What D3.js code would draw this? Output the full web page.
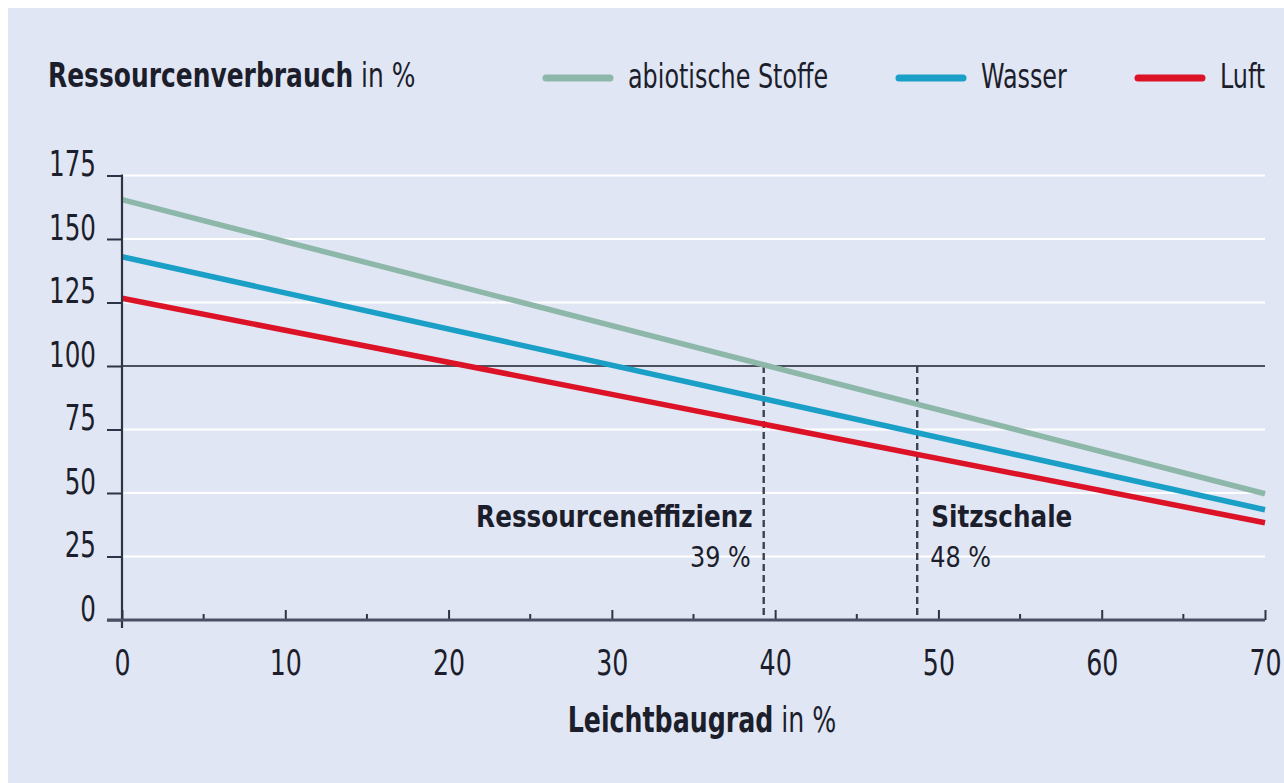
<!DOCTYPE html>
<html>
<head>
<meta charset="utf-8">
<script src="https://cdnjs.cloudflare.com/ajax/libs/d3/7.8.5/d3.min.js"></script>
<style>
  html, body { margin: 0; padding: 0; background: #ffffff; }
  svg { display: block; }
  text { font-family: "DejaVu Sans Condensed", "DejaVu Sans", sans-serif; fill: #1c1e2b; }
  .bold { font-weight: bold; }
</style>
</head>
<body>
<svg id="chart" width="1284" height="783"></svg>
<script>
// values
var leichtbaugrad = [0, 70];
var abiotischeStoffe = [165.5, 49.7];
var wasser = [143, 43.4];
var luft = [126.7, 38.3];

var yTicks = [0, 25, 50, 75, 100, 125, 150, 175];
var xTicks = [0, 10, 20, 30, 40, 50, 60, 70];
var xMinorTicks = [5, 15, 25, 35, 45, 55, 65];

var seriesNames = ["abiotische Stoffe", "Wasser", "Luft"];
var seriesColors = ["#8db8a9", "#1a9fc6", "#dc1226"];

var markerPos = [39.3, 48.7];
var markerTitles = ["Ressourceneffizienz", "Sitzschale"];
var markerLabels = ["39 %", "48 %"];

// the reference font is a condensed one, so squeeze the text horizontally
function squeeze(sel, sx) {
	sel.each(function() {
		var t = d3.select(this);
		var tx = +t.attr("x") || 0, ty = +t.attr("y") || 0;
		t.attr("x", 0).attr("y", 0)
			.attr("transform", "translate(" + tx + "," + ty + ") scale(" + sx + ",1)");
	});
}

function lineChart() {

	var svg = d3.select("#chart");

	// light panel, leaving a thin white strip on top and left
	svg.append("rect")
		.attr("x", 8).attr("y", 8)
		.attr("width", 1284).attr("height", 783)
		.attr("fill", "#e1e6f4");

	var x = d3.scaleLinear().domain([0, 70]).range([122, 1265]),
		y = d3.scaleLinear().domain([0, 175]).range([620, 175.5]);

	// white grid lines, the 100 line is black
	svg.append("g").selectAll("line")
		.data(yTicks.filter(function(d) { return d > 0; }))
		.enter().append("line")
		.attr("x1", x(0)).attr("x2", x(70))
		.attr("y1", function(d) { return y(d); })
		.attr("y2", function(d) { return y(d); })
		.attr("stroke", function(d) { return d === 100 ? "#1c1e2b" : "#ffffff"; })
		.attr("stroke-width", function(d) { return d === 100 ? 1.6 : 2.2; });

	// dashed marker lines
	svg.append("g").selectAll("line")
		.data(markerPos)
		.enter().append("line")
		.attr("x1", function(d) { return x(d); })
		.attr("x2", function(d) { return x(d); })
		.attr("y1", y(100)).attr("y2", y(0))
		.attr("stroke", "#3c4252")
		.attr("stroke-width", 2.4)
		.attr("stroke-dasharray", "7,4");

	// data lines
	var series = [abiotischeStoffe, wasser, luft];
	var line = d3.line()
		.x(function(d, i) { return x(leichtbaugrad[i]); })
		.y(function(d) { return y(d); });

	svg.append("g").selectAll("path")
		.data(series)
		.enter().append("path")
		.attr("d", line)
		.attr("fill", "none")
		.attr("stroke", function(d, i) { return seriesColors[i]; })
		.attr("stroke-width", 5.5);

	// y axis
	var yAxis = svg.append("g")
		.attr("transform", "translate(" + x(0) + ",0)")
		.call(d3.axisLeft(y).tickValues(yTicks).tickSize(15).tickSizeOuter(0).tickFormat(d3.format("d")));
	yAxis.select(".domain").remove();
	yAxis.selectAll(".tick line").attr("stroke", "#2e3444").attr("stroke-width", 2);
	yAxis.selectAll(".tick text")
		.attr("x", -26).attr("dy", 0).attr("y", 0)
		.style("font-size", "36px")
		.style("font-family", null)
		.attr("fill", "#1c1e2b")
		.call(squeeze, 0.76);
	yAxis.append("line")
		.attr("y1", y(175) - 1).attr("y2", y(0) + 8)
		.attr("stroke", "#2e3444").attr("stroke-width", 2.2);

	// x axis, ticks pointing up
	var xAxis = svg.append("g")
		.attr("transform", "translate(0," + y(0) + ")")
		.call(d3.axisBottom(x).tickValues(xTicks).tickSize(0).tickPadding(0).tickFormat(d3.format("d")));
	xAxis.select(".domain").remove();
	xAxis.selectAll(".tick text")
		.attr("y", 55).attr("dy", 0)
		.style("font-size", "36px")
		.style("font-family", null)
		.attr("fill", "#1c1e2b")
		.call(squeeze, 0.78);
	xAxis.selectAll(".tick line")
		.attr("y2", -10).attr("stroke", "#2e3444").attr("stroke-width", 2);
	xAxis.append("g").selectAll("line")
		.data(xMinorTicks)
		.enter().append("line")
		.attr("x1", function(d) { return x(d); })
		.attr("x2", function(d) { return x(d); })
		.attr("y1", 0).attr("y2", -6)
		.attr("stroke", "#2e3444").attr("stroke-width", 2);
	xAxis.append("line")
		.attr("x1", x(0) - 15).attr("x2", x(70))
		.attr("stroke", "#4a5062").attr("stroke-width", 3);

	// marker labels
	var ml = svg.append("g").selectAll("g")
		.data(markerPos)
		.enter().append("g");
	ml.append("text")
		.attr("class", "bold")
		.attr("x", function(d, i) { return i === 0 ? x(d) - 11 : x(d) + 14; })
		.attr("y", 527)
		.attr("text-anchor", function(d, i) { return i === 0 ? "end" : "start"; })
		.style("font-size", "30.5px")
		.text(function(d, i) { return markerTitles[i]; })
		.call(squeeze, 0.9);
	ml.append("text")
		.attr("x", function(d, i) { return i === 0 ? x(d) - 13 : x(d) + 13; })
		.attr("y", 567)
		.attr("text-anchor", function(d, i) { return i === 0 ? "end" : "start"; })
		.style("font-size", "28px")
		.text(function(d, i) { return markerLabels[i]; })
		.call(squeeze, 0.95);

	// title
	var title = svg.append("text")
		.attr("x", 48).attr("y", 87)
		.style("font-size", "33px");
	title.append("tspan").attr("class", "bold").text("Ressourcenverbrauch");
	title.append("tspan").text(" in %");
	title.call(squeeze, 0.84);

	// x axis title
	var xt = svg.append("text")
		.attr("x", 702).attr("y", 732)
		.attr("text-anchor", "middle")
		.style("font-size", "36px");
	xt.append("tspan").attr("class", "bold").text("Leichtbaugrad");
	xt.append("tspan").text(" in %");
	xt.call(squeeze, 0.78);

	// legend
	var legendX = [543, 896, 1135];
	var lg = svg.append("g").selectAll("g")
		.data(seriesNames)
		.enter().append("g")
		.attr("transform", function(d, i) { return "translate(" + legendX[i] + ",78)"; });
	lg.append("line")
		.attr("x1", 3).attr("x2", 67)
		.attr("stroke", function(d, i) { return seriesColors[i]; })
		.attr("stroke-width", 7)
		.attr("stroke-linecap", "round");
	lg.append("text")
		.attr("x", 85).attr("y", 10)
		.style("font-size", "34px")
		.text(function(d) { return d; })
		.call(squeeze, 0.78);
}

lineChart();
</script>
</body>
</html>
